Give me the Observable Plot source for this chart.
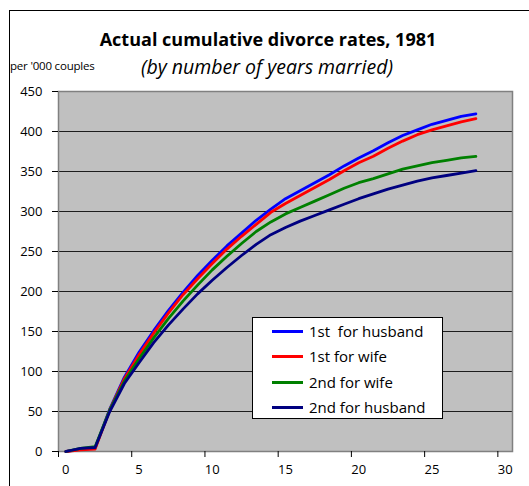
<!DOCTYPE html>
<html><head><meta charset="utf-8">
<script src="https://cdn.jsdelivr.net/npm/d3@7"></script>
<script src="https://cdn.jsdelivr.net/npm/@observablehq/plot@0.6"></script>
<style>
body{margin:0;background:#fff;font-family:"Open Sans",sans-serif;}
#wrap{position:relative;width:529px;height:486px;overflow:hidden;}
#frame{position:absolute;left:9px;top:10px;width:530px;height:520px;border:1px solid #000;box-sizing:border-box;}
#title{position:absolute;left:0;width:536px;top:28px;text-align:center;font-weight:bold;font-size:18px;line-height:22px;color:#000;}
#subtitle{position:absolute;left:0;width:534px;top:55px;text-align:center;font-style:italic;font-size:19.5px;line-height:24px;color:#000;}
#unit{position:absolute;left:10px;top:59px;font-size:11.5px;line-height:14px;color:#000;letter-spacing:-0.2px;}
#chart{position:absolute;left:0;top:0;}
#legend{position:absolute;left:252px;top:317px;width:191px;height:102px;border:1px solid #000;background:#fff;box-sizing:border-box;}
.row{position:absolute;left:19px;height:20px;display:flex;align-items:center;font-size:15px;white-space:pre;}
.sw{width:31px;height:3px;margin-right:6px;}
</style>
</head><body>
<div id="wrap">
<div id="frame"></div>
<div id="chart"></div>
<div id="title">Actual cumulative divorce rates, 1981</div>
<div id="subtitle">(by number of years married)</div>
<div id="unit">per '000 couples</div>
<div id="legend"></div>
</div>
<script>
const years = d3.range(0, 29);
const firstHusband = [0,3,4,53,93,124,151,176,199,220,239,257,273,289,303,316,326,336,346,357,367,376,386,395,402,409,414,419,422];
const firstWife    = [0,2,3,52,91,121,148,173,196,216,235,253,269,284,299,310,320,330,340,351,361,369,379,388,396,402,407,412,416];
const secondWife   = [0,4,6,52,88,116,142,166,188,208,227,244,260,275,287,297,305,313,321,329,336,341,347,353,357,361,364,367,369];
const secondHusband= [0,4,5,50,85,111,136,158,178,197,214,230,245,259,271,280,288,295,302,309,316,322,328,333,338,342,345,348,351];
const seriesNames = ["1st  for husband","1st for wife","2nd for wife","2nd for husband"];
const seriesColors = ["#0000ff","#ff0000","#008000","#000080"];
const seriesValues = [firstHusband, firstWife, secondWife, secondHusband];
const yTicks = [0,50,100,150,200,250,300,350,400,450];
const xLabels = [0,5,10,15,20,25,30];
const xTickMarks = [-0.5,4.5,9.5,14.5,19.5,24.5,29.5];

const rows = [];
seriesValues.forEach((vals, i) => vals.forEach((v, j) => rows.push({year: years[j], value: v, series: seriesNames[i]})));

const plot = Plot.plot({
  width: 529, height: 486,
  marginLeft: 58, marginRight: 17, marginTop: 91, marginBottom: 35,
  style: {fontFamily: "Open Sans", fontSize: "13px", color: "#000", background: "transparent", overflow: "visible"},
  x: {domain: [-0.5, 30.5]},
  y: {domain: [0, 450]},
  color: {domain: seriesNames, range: seriesColors},
  marks: [
    Plot.frame({fill: "#c0c0c0", stroke: null}),
    Plot.gridY(yTicks.filter(d => d > 0 && d < 450), {stroke: "#000", strokeOpacity: 0.85, strokeWidth: 1}),
    Plot.frame({stroke: "#808080", strokeWidth: 1.5}),
    Plot.axisY(yTicks, {tickSize: 6, tickPadding: 10, label: null, stroke: "#000"}),
    Plot.axisX(xTickMarks, {tickSize: 6, tickFormat: () => "", label: null, stroke: "#000"}),
    Plot.axisX(xLabels, {tickSize: 0, tickPadding: 13, label: null}),
    Plot.line(rows, {x: "year", y: "value", z: "series", stroke: "series", strokeWidth: 2.8, strokeLinejoin: "round"})
  ]
});
document.getElementById("chart").appendChild(plot);

const legend = document.getElementById("legend");
const rowTops = [3, 28, 54, 79];
seriesNames.forEach((name, i) => {
  const r = document.createElement("div");
  r.className = "row";
  r.style.top = rowTops[i] + "px";
  const sw = document.createElement("div");
  sw.className = "sw";
  sw.style.background = seriesColors[i];
  r.appendChild(sw);
  r.appendChild(document.createTextNode(name));
  legend.appendChild(r);
});
</script>
</body></html>
